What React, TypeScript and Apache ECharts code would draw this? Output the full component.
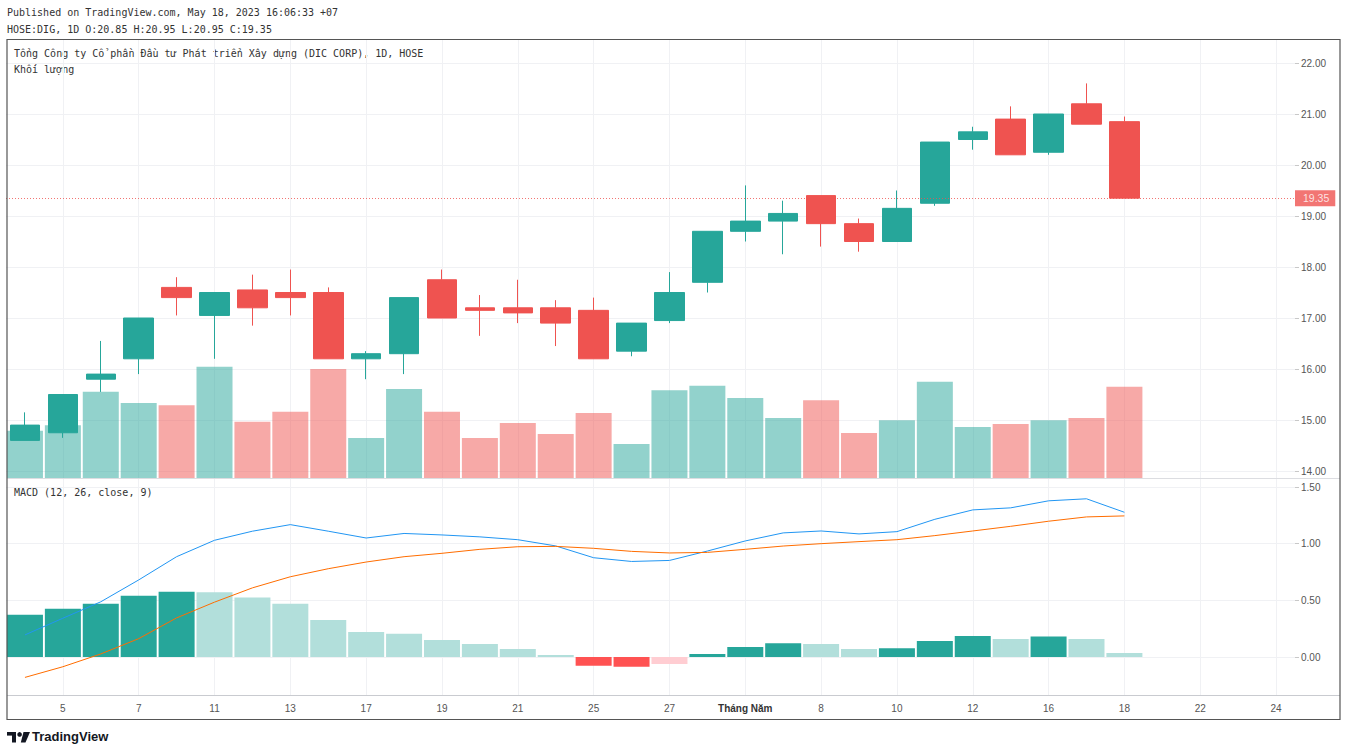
import React, { useEffect, useRef } from 'react';
import * as echarts from 'echarts';

const dates = [
  '2023-04-04', '2023-04-05', '2023-04-06', '2023-04-07', '2023-04-10', '2023-04-11', '2023-04-12',
  '2023-04-13', '2023-04-14', '2023-04-17', '2023-04-18', '2023-04-19', '2023-04-20', '2023-04-21',
  '2023-04-24', '2023-04-25', '2023-04-26', '2023-04-27', '2023-04-28', '2023-05-04', '2023-05-05',
  '2023-05-08', '2023-05-09', '2023-05-10', '2023-05-11', '2023-05-12', '2023-05-15', '2023-05-16',
  '2023-05-17', '2023-05-18', '2023-05-19', '2023-05-22', '2023-05-23', '2023-05-24',
];
const tickLabels = [
  '4', '5', '6', '7', '10', '11', '12', '13', '14', '17', '18', '19', '20', '21', '24', '25', '26', '27', '28',
  'Tháng Năm', '5', '8', '9', '10', '11', '12', '15', '16', '17', '18', '19', '22', '23', '24',
];

const opens = [14.6, 14.75, 15.8, 16.2, 17.6, 17.05, 17.55, 17.5, 17.5, 16.2, 16.3, 17.75, 17.2, 17.2, 17.2, 17.15, 16.35, 16.95, 17.7, 18.7, 18.9, 19.4, 18.85, 18.5, 19.25, 20.5, 20.9, 20.25, 21.2, 20.85];
const closes = [14.9, 15.5, 15.9, 17.0, 17.4, 17.5, 17.2, 17.4, 16.2, 16.3, 17.4, 17.0, 17.15, 17.1, 16.9, 16.2, 16.9, 17.5, 18.7, 18.9, 19.05, 18.85, 18.5, 19.15, 20.45, 20.65, 20.2, 21.0, 20.8, 19.35];
const lows = [14.6, 14.65, 15.55, 15.9, 17.05, 16.2, 16.85, 17.05, 16.2, 15.8, 15.9, 17.0, 16.65, 16.9, 16.45, 16.2, 16.25, 16.9, 17.5, 18.5, 18.25, 18.4, 18.3, 18.5, 19.2, 20.3, 20.2, 20.2, 20.8, 19.35];
const highs = [15.15, 15.5, 16.55, 17.0, 17.8, 17.5, 17.85, 17.95, 17.6, 16.35, 17.4, 17.95, 17.45, 17.75, 17.35, 17.4, 16.9, 17.9, 18.7, 19.6, 19.3, 19.4, 18.95, 19.5, 20.45, 20.75, 21.15, 21.0, 21.6, 20.95];
const volumes = [8.5, 9.5, 15.5, 13.5, 13.1, 20.0, 10.1, 11.9, 19.6, 7.2, 16.0, 11.9, 7.2, 9.9, 7.9, 11.7, 6.1, 15.8, 16.6, 14.4, 10.8, 14.0, 8.1, 10.4, 17.3, 9.2, 9.7, 10.4, 10.8, 16.4];

const macdLine = [0.195, 0.342, 0.487, 0.68, 0.885, 1.03, 1.11, 1.168, 1.11, 1.05, 1.09, 1.077, 1.06, 1.035, 0.98, 0.876, 0.843, 0.852, 0.935, 1.024, 1.095, 1.112, 1.086, 1.106, 1.215, 1.298, 1.316, 1.378, 1.396, 1.277];
const signalLine = [-0.18, -0.086, 0.027, 0.162, 0.345, 0.484, 0.61, 0.708, 0.779, 0.838, 0.885, 0.915, 0.95, 0.973, 0.976, 0.959, 0.932, 0.918, 0.923, 0.95, 0.979, 1.0, 1.018, 1.035, 1.071, 1.112, 1.153, 1.198, 1.236, 1.245];
const histogram = [0.372, 0.425, 0.469, 0.54, 0.575, 0.572, 0.525, 0.469, 0.327, 0.221, 0.206, 0.15, 0.115, 0.071, 0.018, -0.077, -0.086, -0.062, 0.027, 0.088, 0.121, 0.115, 0.071, 0.077, 0.142, 0.186, 0.159, 0.18, 0.159, 0.035];

const lastPrice = 19.35;

export default function App() {
  const ref = useRef<HTMLDivElement>(null);

  useEffect(() => {
    const chart = echarts.init(ref.current as HTMLDivElement, null, { renderer: 'svg' });
    const UP = '#26a69a';
    const DOWN = '#ef5350';
    const GRID = '#f0f1f4';
    const LABEL = '#555';
    const AXIS_FONT = 'Liberation Sans';
    const MONO = '"DejaVu Sans Mono", "Liberation Mono", monospace';

    const candleData = opens.map((o, i) => [o, closes[i], lows[i], highs[i]]);
    const volData = volumes.map((v, i) => ({
      value: v,
      itemStyle: { color: closes[i] >= opens[i] ? 'rgba(38,166,154,0.5)' : 'rgba(239,83,80,0.5)' },
    }));
    const histData = histogram.map((v, i) => {
      const prev = i > 0 ? histogram[i - 1] : v - 1;
      let color;
      if (v >= 0) color = v >= prev ? '#26a69a' : '#b2dfdb';
      else color = v < prev ? '#ff5252' : '#ffcdd2';
      return { value: v, itemStyle: { color } };
    });

    const left = 6;
    const width = 1289;
    const oddOnly = (i: number) => i % 2 === 1;

    const hiddenX = (gridIndex: number, vlines: boolean) => ({
      type: 'category',
      gridIndex,
      data: dates,
      boundaryGap: true,
      axisLine: { show: false },
      axisTick: { show: false },
      axisLabel: { show: false },
      splitLine: vlines
        ? { show: true, interval: oddOnly, alignWithLabel: true, lineStyle: { color: GRID, width: 1 } }
        : { show: false },
    });

    const option: any = {
      animation: false,
      backgroundColor: '#ffffff',
      grid: [
        { left, width, top: 39, height: 439 },
        { left, width, top: 63, height: 408 },
        { left, width, top: 479, height: 216 },
        { left, width, top: 487, height: 170 },
      ],
      xAxis: [
        hiddenX(0, true),
        hiddenX(1, false),
        {
          type: 'category',
          gridIndex: 2,
          data: dates,
          boundaryGap: true,
          axisLine: { show: false },
          axisTick: { show: false },
          axisLabel: {
            show: true,
            interval: oddOnly,
            margin: 8,
            color: LABEL,
            fontSize: 10,
            fontFamily: AXIS_FONT,
            formatter: (_v: string, i: number) =>
              tickLabels[i] === 'Tháng Năm' ? '{b|' + tickLabels[i] + '}' : tickLabels[i],
            rich: { b: { fontWeight: 'bold', color: '#333', fontSize: 10, fontFamily: AXIS_FONT } },
          },
          splitLine: { show: true, interval: oddOnly, alignWithLabel: true, lineStyle: { color: GRID, width: 1 } },
        },
        hiddenX(3, false),
      ],
      yAxis: [
        { type: 'value', gridIndex: 0, min: 0, max: 79, show: false },
        {
          type: 'value',
          gridIndex: 1,
          position: 'right',
          min: 14,
          max: 22,
          interval: 1,
          axisLine: { show: false },
          axisTick: { show: true, length: 4, lineStyle: { color: '#c8c8c8' } },
          axisLabel: { color: LABEL, fontSize: 10, fontFamily: AXIS_FONT, margin: 6, formatter: (v: number) => v.toFixed(2) },
          splitLine: { show: true, lineStyle: { color: GRID, width: 1 } },
        },
        { type: 'value', gridIndex: 2, min: 0, max: 1, show: false },
        {
          type: 'value',
          gridIndex: 3,
          position: 'right',
          min: 0,
          max: 1.5,
          interval: 0.5,
          axisLine: { show: false },
          axisTick: { show: true, length: 4, lineStyle: { color: '#c8c8c8' } },
          axisLabel: { color: LABEL, fontSize: 10, fontFamily: AXIS_FONT, margin: 6, formatter: (v: number) => v.toFixed(2) },
          splitLine: { show: true, lineStyle: { color: GRID, width: 1 } },
        },
      ],
      series: [
        {
          name: 'Khối lượng',
          type: 'bar',
          xAxisIndex: 0,
          yAxisIndex: 0,
          data: volData,
          barWidth: 36,
          z: 1,
        },
        {
          name: 'DIG',
          type: 'candlestick',
          xAxisIndex: 1,
          yAxisIndex: 1,
          data: candleData,
          barWidth: 30,
          z: 3,
          clip: false,
          itemStyle: { color: UP, color0: DOWN, borderColor: UP, borderColor0: DOWN, borderWidth: 1 },
          markLine: {
            silent: true,
            symbol: ['none', 'none'],
            data: [{ yAxis: lastPrice }],
            lineStyle: { color: DOWN, type: [1, 2], width: 1, opacity: 0.8 },
            label: {
              show: true,
              position: 'end',
              distance: 0,
              formatter: lastPrice.toFixed(2),
              color: '#fff',
              backgroundColor: DOWN,
              padding: [3, 6, 2, 8],
              fontSize: 10.5,
              fontFamily: AXIS_FONT,
            },
          },
        },
        {
          name: 'Histogram',
          type: 'bar',
          xAxisIndex: 3,
          yAxisIndex: 3,
          data: histData,
          barWidth: 36,
          clip: false,
          z: 2,
        },
        {
          name: 'MACD',
          type: 'line',
          xAxisIndex: 3,
          yAxisIndex: 3,
          data: macdLine,
          showSymbol: false,
          symbol: 'none',
          clip: false,
          lineStyle: { color: '#2196f3', width: 1 },
          z: 4,
        },
        {
          name: 'Signal',
          type: 'line',
          xAxisIndex: 3,
          yAxisIndex: 3,
          data: signalLine,
          showSymbol: false,
          symbol: 'none',
          clip: false,
          lineStyle: { color: '#ff6d00', width: 1 },
          z: 4,
        },
      ],
      graphic: [
        {
          type: 'text', left: 7, top: 7, silent: true,
          style: { text: 'Published on TradingView.com, May 18, 2023 16:06:33 +07', font: '10px ' + MONO, fill: '#333' },
        },
        {
          type: 'text', left: 7, top: 24, silent: true,
          style: { text: 'HOSE:DIG, 1D O:20.85 H:20.95 L:20.95 C:19.35', font: '10px ' + MONO, fill: '#333' },
        },
        {
          type: 'text', left: 14, top: 48, silent: true,
          style: { text: 'Tổng Công ty Cổ phần Đầu tư Phát triển Xây dựng (DIC CORP), 1D, HOSE', font: '10px ' + MONO, fill: '#333' },
        },
        {
          type: 'text', left: 14, top: 64, silent: true,
          style: { text: 'Khối lượng', font: '10px ' + MONO, fill: '#333' },
        },
        {
          type: 'text', left: 14, top: 487, silent: true,
          style: { text: 'MACD (12, 26, close, 9)', font: '10px ' + MONO, fill: '#333' },
        },
        {
          type: 'line', silent: true, z: 10,
          shape: { x1: 7, y1: 478.5, x2: 1340, y2: 478.5 },
          style: { stroke: '#dcdde1', lineWidth: 1 },
        },
        {
          type: 'line', silent: true, z: 10,
          shape: { x1: 7, y1: 695.5, x2: 1340, y2: 695.5 },
          style: { stroke: '#c9cbd0', lineWidth: 1 },
        },
        {
          type: 'rect', silent: true, z: 10,
          shape: { x: 7, y: 39.5, width: 1333, height: 680 },
          style: { fill: 'none', stroke: '#555', lineWidth: 1.2 },
        },
        {
          type: 'group', silent: true,
          children: [
            { type: 'rect', shape: { x: 7, y: 732, width: 9, height: 3.6 }, style: { fill: '#131722' } },
            { type: 'rect', shape: { x: 12, y: 732, width: 4, height: 10.5 }, style: { fill: '#131722' } },
            { type: 'circle', shape: { cx: 19.6, cy: 734.4, r: 2.3 }, style: { fill: '#131722' } },
            { type: 'polygon', shape: { points: [[23.5, 732], [30, 732], [25.5, 742.5], [20.8, 742.5]] }, style: { fill: '#131722' } },
            {
              type: 'text', left: 32, top: 730,
              style: { text: 'TradingView', font: 'bold 13px "Liberation Sans", Arial, sans-serif', fill: '#131722' },
            },
          ],
        },
      ],
    };

    chart.setOption(option);
    return () => chart.dispose();
  }, []);

  return (
    <div
      ref={ref}
      style={{ position: 'fixed', left: 0, top: 0, width: 1345, height: 752, background: '#fff' }}
    />
  );
}
